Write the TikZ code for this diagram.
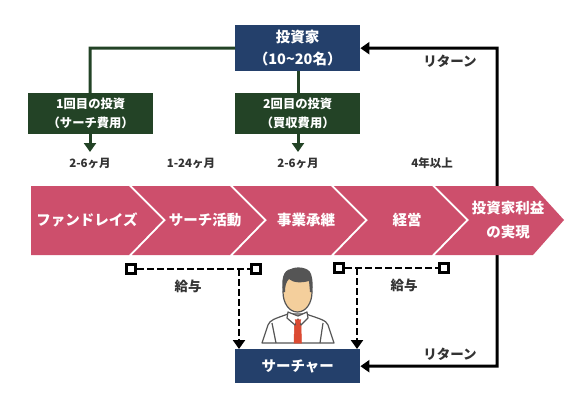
\documentclass[tikz,border=0pt]{standalone}
\usepackage{fontspec}
\setmainfont{Noto Sans CJK JP}
\usetikzlibrary{arrows.meta,calc}
\definecolor{navy}{HTML}{24406B}
\definecolor{forest}{HTML}{234326}
\definecolor{rose}{HTML}{CD4F6C}
\definecolor{hairc}{HTML}{555555}
\definecolor{skin}{HTML}{F4CF9C}
\definecolor{tiec}{HTML}{DB4A32}
\definecolor{ink}{HTML}{333333}
\tikzset{
  x=1pt,y=-1pt,
  navybox/.style={fill=navy,text=white,font=\fontsize{14.5}{22}\selectfont\bfseries,align=center,minimum width=125pt,inner sep=0pt,anchor=north west},
  greenbox/.style={fill=forest,text=white,font=\fontsize{12.3}{19}\selectfont\bfseries,align=center,minimum width=125pt,minimum height=41pt,inner sep=0pt,anchor=north west},
  chev/.style={fill=rose},
  chevtext/.style={text=white,font=\fontsize{14.5}{24}\selectfont\bfseries,align=center,inner sep=0pt},
  period/.style={text=ink,font=\fontsize{11.5}{13}\selectfont\bfseries,inner sep=0pt},
  note/.style={text=ink,font=\fontsize{13.5}{15}\selectfont\bfseries,inner sep=0pt},
  greenline/.style={draw=forest,line width=3pt},
  greenarrow/.style={greenline,-{Triangle[width=12pt,length=9pt]}},
  retline/.style={draw=black,line width=3pt,{Triangle[width=12pt,length=9pt]}-{Triangle[width=12pt,length=9pt]}},
  dashline/.style={draw=black,line width=2.8pt,dash pattern=on 7pt off 3pt},
  dasharrow/.style={dashline,-{Triangle[width=12pt,length=9pt]}},
  endsq/.style={draw=black,line width=3pt,fill=white,minimum size=9pt,inner sep=0pt},
  outl/.style={draw=hairc,line width=1.2pt,line join=round},
}
\begin{document}
\begin{tikzpicture}
\useasboundingbox (0,0) rectangle (588,400);
% boxes
\node[navybox,minimum height=46pt] (inv) at (235,25) {投資家\\（10\textasciitilde 20名）};
\node[greenbox] (g1) at (28,93) {1回目の投資\\（サーチ費用）};
\node[greenbox] (g2) at (235,93) {2回目の投資\\（買収費用）};
\node[navybox,minimum height=34pt] (sea) at (235,349) {サーチャー};
% return line (behind the chevrons)
\coordinate (rt) at (497,48);
\coordinate (rb) at (497,366);
\draw[retline] (inv.east) -- (rt) -- (rb) -- (sea.east);
% green connectors
\coordinate (gc) at (90,48);
\coordinate (a1) at (90,152);
\coordinate (a2) at (298,152);
\draw[greenline] (inv.west) -- (gc) -- (gc |- g1.north);
\draw[greenline] (298,71) -- (298,93);
\draw[greenarrow] (a1 |- g1.south) -- (a1);
\draw[greenarrow] (a2 |- g2.south) -- (a2);
% chevrons
\fill[chev] (31,186) -- (129,186) -- (163,220) -- (129,255) -- (31,255) -- cycle;
\fill[chev] (132,186) -- (230,186) -- (264,220) -- (230,255) -- (132,255) -- (166,220) -- cycle;
\fill[chev] (233,186) -- (331,186) -- (365,220) -- (331,255) -- (233,255) -- (267,220) -- cycle;
\fill[chev] (334,186) -- (432,186) -- (466,220) -- (432,255) -- (334,255) -- (368,220) -- cycle;
\fill[chev] (435,186) -- (533,186) -- (564,220) -- (533,255) -- (435,255) -- (469,220) -- cycle;
\node[chevtext] (c1) at (87,220) {ファンドレイズ};
\node[chevtext] (c2) at (205,220) {サーチ活動};
\node[chevtext] (c3) at (306,220) {事業承継};
\node[chevtext] (c4) at (407,220) {経営};
\node[chevtext] (c5) at (508,220) {投資家利益\\の実現};
% periods
\node[period] (p1) at (90,163) {2-6ヶ月};
\node[period] (p2) at (191,163) {1-24ヶ月};
\node[period] (p3) at (298,163) {2-6ヶ月};
\node[period] (p4) at (432,163) {4年以上};
% returns
\node[note] (r1) at (450,61) {リターン};
\node[note] (r2) at (450,354) {リターン};
% salary
\node[endsq] (s1) at (131,269) {};
\node[endsq] (s2) at (256,269) {};
\node[endsq] (s3) at (339,268) {};
\node[endsq] (s4) at (444,268) {};
\draw[dashline] (s1) -- (s2);
\draw[dashline] (s3) -- (s4);
\coordinate (d1) at (239,269);
\coordinate (d2) at (357,268);
\draw[dasharrow] (d1) -- (d1 |- sea.north);
\draw[dasharrow] (d2) -- (d2 |- sea.north);
\node[note] (k1) at (188,286) {給与};
\node[note] (k2) at (404,285) {給与};
% person
\draw[outl,fill=white] (262,343) -- (268,325) .. controls (270,320) and (274,319) .. (288,314) -- (306,314) .. controls (320,319) and (326,320) .. (328,325) -- (334,343) -- cycle;
\draw[outl] (272,323) -- (276,343);
\draw[outl] (323,323) -- (320,343);
\draw[tiec,fill=tiec,line width=.5pt] (295,319) -- (300,319) -- (301,325) -- (301.5,343) -- (294,343) -- (294.5,325) -- cycle;
\draw[outl,fill=white] (288,312) -- (287,318) -- (295,325) -- (298,319) -- (301,325) -- (308,318) -- (307,312) -- (298,316) -- cycle;
\draw[tiec,fill=tiec,line width=.3pt] (295,319.5) -- (301,319.5) -- (300,324) -- (296,324) -- cycle;
\draw[outl,fill=skin] (283,292) .. controls (283,278) and (290,274) .. (297.5,274) .. controls (305,274) and (312,278) .. (312,292) .. controls (312,303) and (306,312) .. (297.5,312) .. controls (289,312) and (283,303) .. (283,292) -- cycle;
\fill[hairc] (283,292) .. controls (281,280) and (283,270) .. (291,269) .. controls (296,266) and (309,267) .. (311,274) .. controls (313,280) and (313,286) .. (312,292) -- (310,292) -- (309,281) .. controls (302,283) and (293,283) .. (289,279) .. controls (286,282) and (285,286) .. (285,292) -- cycle;
\end{tikzpicture}
\end{document}
